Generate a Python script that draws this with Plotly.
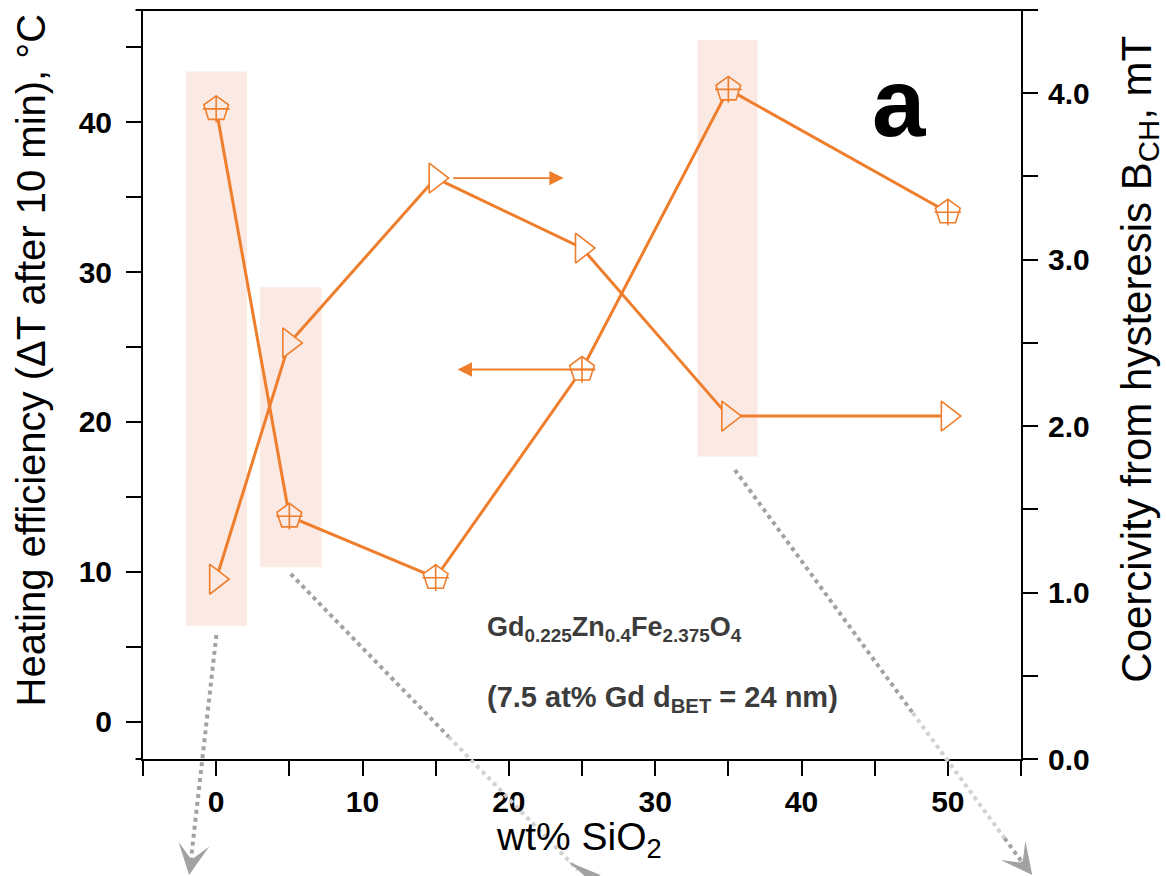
import math
import plotly.graph_objects as go

# ---- data -------------------------------------------------------------
# SiO2 content of each sample (wt%)
sio2_wt = [0, 5, 15, 25, 35, 50]
# heating efficiency: temperature rise after 10 min (°C), left axis
heating_dt = [40.9, 13.7, 9.6, 23.5, 42.2, 34.0]
# coercivity from the hysteresis loops (mT), right axis
coercivity_mt = [1.08, 2.50, 3.49, 3.07, 2.06, 2.06]

x_tick_vals = [0, 10, 20, 30, 40, 50]
y_tick_vals = [0, 10, 20, 30, 40]
y2_tick_vals = [0.0, 1.0, 2.0, 3.0, 4.0]

# highlighted sample groups (wt% span, heating-axis span)
band_x = [(-2.05, 2.1), (3.0, 7.2), (32.9, 37.0)]
band_y = [(6.4, 43.4), (10.3, 29.0), (17.7, 45.5)]

# arrows telling which axis a series belongs to: (tail, head) in wt%
coercivity_pointer = (16.1, 23.75)   # drawn at the 15 wt% coercivity level
heating_pointer = (26.0, 16.5)       # drawn at the 25 wt% heating level

# ---- styling ----------------------------------------------------------
ORANGE = "#EF7E2C"
BAND = "#FBE9E3"
GRAY_DARK = "#A2A2A2"
GRAY_LIGHT = "#D2D2D2"
FONT = "Liberation Sans, Arial, sans-serif"

X_RANGE = [-5, 55]
Y_RANGE = [-2.5, 47.5]
Y2_RANGE = [0, 4.5]

W, H = 1166, 876
M_L, M_R, M_T, M_B = 143, 145, 10, 117
PLOT_W = W - M_L - M_R
PLOT_H = H - M_T - M_B


def y2_to_y(v):
    """Map a right-axis value onto the left-axis scale."""
    f = (v - Y2_RANGE[0]) / (Y2_RANGE[1] - Y2_RANGE[0])
    return Y_RANGE[0] + f * (Y_RANGE[1] - Y_RANGE[0])


def face(x, y):
    """Marker face colour: band colour inside a highlight, white outside."""
    for (x0, x1), (y0, y1) in zip(band_x, band_y):
        if x0 <= x <= x1 and y0 <= y <= y1:
            return BAND
    return "white"


heat_face = [face(x, y) for x, y in zip(sio2_wt, heating_dt)]
coer_face = [face(x, y2_to_y(y)) for x, y in zip(sio2_wt, coercivity_mt)]

fig = go.Figure()

# connecting lines
fig.add_trace(go.Scatter(x=sio2_wt, y=heating_dt, mode="lines",
                         line=dict(color=ORANGE, width=3), yaxis="y",
                         hoverinfo="skip", showlegend=False))
fig.add_trace(go.Scatter(x=sio2_wt, y=coercivity_mt, mode="lines",
                         line=dict(color=ORANGE, width=3), yaxis="y2",
                         hoverinfo="skip", showlegend=False))

# heating efficiency: crossed pentagons
fig.add_trace(go.Scatter(x=sio2_wt, y=heating_dt, mode="markers", yaxis="y",
                         marker=dict(symbol="pentagon", size=26, color=heat_face,
                                     line=dict(color=ORANGE, width=1.6)),
                         showlegend=False))
fig.add_trace(go.Scatter(x=sio2_wt, y=heating_dt, mode="markers", yaxis="y",
                         marker=dict(symbol="cross-thin", size=19, color=ORANGE,
                                     line=dict(color=ORANGE, width=1.6)),
                         showlegend=False))

# coercivity: open right triangles
fig.add_trace(go.Scatter(x=sio2_wt, y=coercivity_mt, mode="markers", yaxis="y2",
                         marker=dict(symbol="triangle-right", size=26, color=coer_face,
                                     line=dict(color=ORANGE, width=1.6)),
                         showlegend=False))

shapes = []
# highlight bands
for (x0, x1), (y0, y1) in zip(band_x, band_y):
    shapes.append(dict(type="rect", xref="x", yref="y", x0=x0, x1=x1, y0=y0, y1=y1,
                       fillcolor=BAND, line=dict(width=0), layer="below"))

# top frame line and bottom overshoot
shapes.append(dict(type="line", xref="paper", yref="paper", x0=-0.0085, x1=1.018,
                   y0=1, y1=1, line=dict(color="black", width=2)))
shapes.append(dict(type="line", xref="paper", yref="paper", x0=-0.0085, x1=0,
                   y0=0, y1=0, line=dict(color="black", width=2)))

# dotted grey leaders running out of the highlight bands (paper coords)
leaders = [
    # start, end of dotted run, head tip, colour stops (fraction, colour)
    dict(start=(0.0836, 0.1656), end=(0.0543, -0.1375), tip=(0.0525, -0.162),
         stops=[(0.0, 1.0, GRAY_DARK)]),
    dict(start=(0.1683, 0.2470), end=(0.4953, -0.1482), tip=(0.5211, -0.1789),
         stops=[(0.0, 0.55, GRAY_DARK), (0.55, 1.0, GRAY_LIGHT)]),
    dict(start=(0.6742, 0.3858), end=(1.0008, -0.1371), tip=(1.0128, -0.1562),
         stops=[(0.0, 0.62, GRAY_DARK), (0.62, 0.94, GRAY_LIGHT), (0.94, 1.0, GRAY_DARK)]),
]

annotations = []
for ld in leaders:
    (sx, sy), (ex, ey) = ld["start"], ld["end"]
    for f0, f1, col in ld["stops"]:
        shapes.append(dict(type="line", xref="paper", yref="paper",
                           x0=sx + (ex - sx) * f0, y0=sy + (ey - sy) * f0,
                           x1=sx + (ex - sx) * f1, y1=sy + (ey - sy) * f1,
                           line=dict(color=col, width=4, dash="4px,4px")))
    # arrow head pointing along the leader
    dxp = (ex - sx) * PLOT_W
    dyp = -(ey - sy) * PLOT_H
    n = math.hypot(dxp, dyp)
    annotations.append(dict(xref="paper", yref="paper", x=ld["tip"][0], y=ld["tip"][1],
                            ax=-dxp / n * 20, ay=-dyp / n * 20, axref="pixel", ayref="pixel",
                            text="", showarrow=True, arrowhead=3, arrowsize=2.6,
                            arrowwidth=2, arrowcolor=GRAY_DARK, standoff=0))

# axis pointers
annotations.append(dict(xref="x", yref="y2", axref="x", ayref="y2",
                        x=coercivity_pointer[1], y=coercivity_mt[2],
                        ax=coercivity_pointer[0], ay=coercivity_mt[2],
                        text="", showarrow=True, arrowhead=2, arrowsize=1.6,
                        arrowwidth=1.8, arrowcolor=ORANGE, standoff=0))
annotations.append(dict(xref="x", yref="y", axref="x", ayref="y",
                        x=heating_pointer[1], y=heating_dt[3],
                        ax=heating_pointer[0], ay=heating_dt[3],
                        text="", showarrow=True, arrowhead=2, arrowsize=1.6,
                        arrowwidth=1.8, arrowcolor=ORANGE, standoff=0))

# panel letter
annotations.append(dict(xref="paper", yref="paper", x=0.861, y=0.877,
                        text="a", showarrow=False, xanchor="center", yanchor="middle",
                        font=dict(family=FONT, size=96, color="black", weight="bold")))

# sample description
annotations.append(dict(xref="paper", yref="paper", x=0.389, y=0.174,
                        text="Gd<sub>0.225</sub>Zn<sub>0.4</sub>Fe<sub>2.375</sub>O<sub>4</sub>",
                        showarrow=False, xanchor="left", yanchor="middle",
                        font=dict(family=FONT, size=27, color="#3C3C3C", weight="bold")))
annotations.append(dict(xref="paper", yref="paper", x=0.389, y=0.080,
                        text="(7.5 at% Gd d<sub>BET</sub> = 24 nm)",
                        showarrow=False, xanchor="left", yanchor="middle",
                        font=dict(family=FONT, size=29, color="#3C3C3C", weight="bold")))

# axis titles
annotations.append(dict(xref="paper", yref="paper", x=-0.128, y=0.533,
                        text="Heating efficiency (ΔT after 10 min), °C", textangle=-90,
                        showarrow=False, xanchor="center", yanchor="middle",
                        font=dict(family=FONT, size=40, color="black")))
annotations.append(dict(xref="paper", yref="paper", x=1.134, y=0.534,
                        text="Coercivity from hysteresis B<sub>CH</sub>, mT", textangle=-90,
                        showarrow=False, xanchor="center", yanchor="middle",
                        font=dict(family=FONT, size=42, color="black")))
annotations.append(dict(xref="paper", yref="paper", x=0.497, y=-0.107,
                        text="wt% SiO<sub>2</sub>",
                        showarrow=False, xanchor="center", yanchor="middle",
                        font=dict(family=FONT, size=39, color="black")))

tick_font = dict(family=FONT, size=30, color="black", weight="bold")
axis_common = dict(showline=True, linecolor="black", linewidth=2, ticks="outside",
                   ticklen=15, tickwidth=2, tickcolor="black", showgrid=False,
                   zeroline=False, tickfont=tick_font)

fig.update_layout(
    width=W, height=H, autosize=False,
    margin=dict(l=M_L, r=M_R, t=M_T, b=M_B, pad=0),
    paper_bgcolor="white", plot_bgcolor="white",
    showlegend=False,
    xaxis=dict(range=X_RANGE, tickvals=x_tick_vals, ticklabelstandoff=0,
               minor=dict(tickvals=[-5, 5, 15, 25, 35, 45, 55], ticks="outside",
                          ticklen=15, tickwidth=2, tickcolor="black"),
               **axis_common),
    yaxis=dict(range=Y_RANGE, tickvals=y_tick_vals, ticklabelstandoff=8,
               minor=dict(tickvals=[5, 15, 25, 35, 45], ticks="outside",
                          ticklen=15, tickwidth=2, tickcolor="black"),
               **axis_common),
    yaxis2=dict(range=Y2_RANGE, tickvals=y2_tick_vals, tickformat=".1f",
                overlaying="y", side="right", ticklabelstandoff=4,
                minor=dict(tickvals=[0.5, 1.5, 2.5, 3.5, 4.5], ticks="outside",
                           ticklen=15, tickwidth=2, tickcolor="black"),
                **axis_common),
    shapes=shapes,
    annotations=annotations,
)

fig.write_html("out.html")
